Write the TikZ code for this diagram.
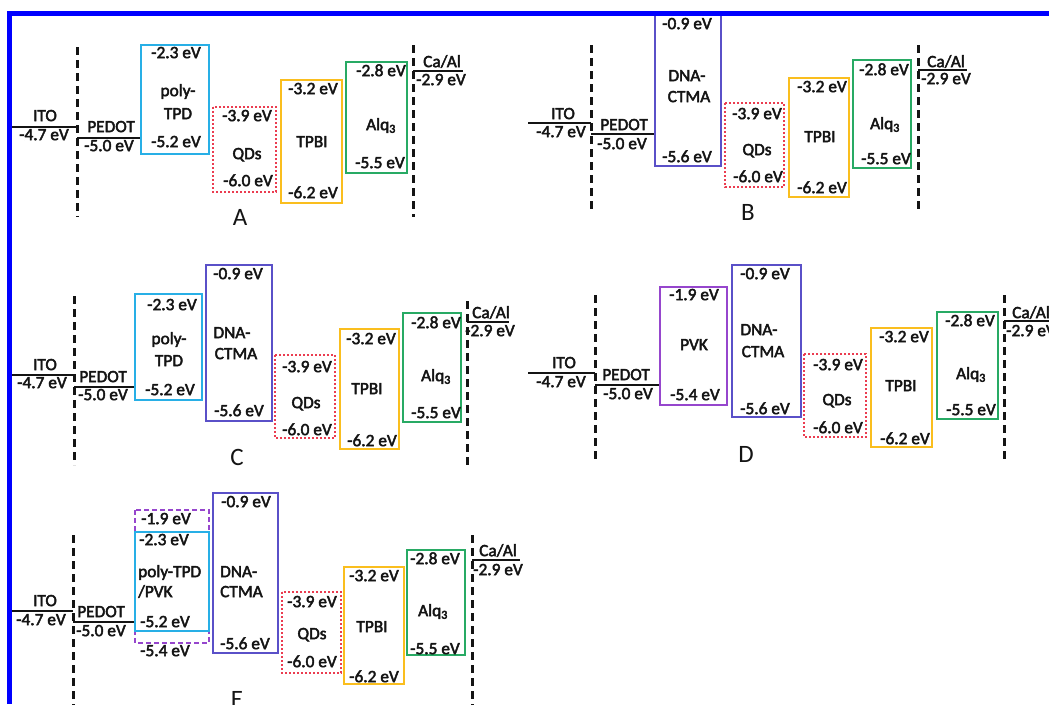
\documentclass[tikz,border=0pt]{standalone}
\usepackage{fontspec}
\setmainfont{Carlito}
\definecolor{ink}{RGB}{20,20,20}
\definecolor{cTPD}{RGB}{40,175,230}
\definecolor{cDNA}{RGB}{90,80,200}
\definecolor{cPVK}{RGB}{150,70,205}
\definecolor{cQD}{RGB}{235,60,80}
\definecolor{cTPBI}{RGB}{250,190,30}
\definecolor{cALQ}{RGB}{40,170,100}
\definecolor{frameblue}{RGB}{0,0,255}
\newcommand\heavytext{\special{pdf:literal direct 2 Tr 0.45 w}}
\newcommand\lblfont{\fontsize{17.3}{18}\selectfont\heavytext}
\newcommand\panelfont{\fontsize{25}{26}\selectfont}
\newcommand\T[4]{\node[lbl] (#1) at (#2,#3) {#4};}
\begin{document}
\begin{tikzpicture}[x=1pt,y=-1pt,
  lbl/.style={font=\lblfont,inner sep=0pt,text=ink,text height=0.63em,text depth=0pt},
  plab/.style={font=\panelfont,inner sep=0pt,text=ink,text height=0.66em,text depth=0pt},
  level/.style={draw=ink,line width=1.9pt},
  vac/.style={draw=ink,line width=3pt,dash pattern=on 8pt off 5pt},
  tpdbox/.style={draw=cTPD,line width=2pt},
  dnabox/.style={draw=cDNA,line width=2pt},
  pvkbox/.style={draw=cPVK,line width=2pt},
  pvkdash/.style={draw=cPVK,line width=1.6pt,dash pattern=on 5pt off 3pt},
  qdbox/.style={draw=cQD,line width=2.4pt,dash pattern=on 2pt off 2pt},
  tpbibox/.style={draw=cTPBI,line width=2.2pt},
  alqbox/.style={draw=cALQ,line width=2.2pt}]
\useasboundingbox (0,0) rectangle (1049,704);
\clip (0,0) rectangle (1049,704);

% ================= Panel A =================
\coordinate (aI1) at (12,127); \coordinate (aI2) at (77,127);
\coordinate (aP1) at (77,138); \coordinate (aP2) at (141,138);
\draw[level] (aI1) -- (aI2);
\draw[level] (aP1) -- (aP2);
\coordinate (aV1) at (77,47); \coordinate (aV2) at (77,217);
\draw[vac] (aV1) -- (aV2);
\coordinate (aW1) at (413,45); \coordinate (aW2) at (413,217);
\draw[vac] (aW1) -- (aW2);
\coordinate (aC1) at (413,71); \coordinate (aC2) at (463,71);
\draw[level] (aC1) -- (aC2);
\draw[tpdbox] (141,45) rectangle (209,154);
\draw[qdbox] (213,107) rectangle (276,192);
\draw[tpbibox] (281,80) rectangle (342,203);
\draw[alqbox] (346,62) rectangle (407,173);
\T{aito}{45}{118}{ITO}
\T{aitoe}{44}{137}{-4.7 eV}
\T{aped}{111}{129}{PEDOT}
\T{apede}{109}{148}{-5.0 eV}
\T{atpdt}{176}{55}{-2.3 eV}
\T{atpd1}{178}{93}{poly-}
\T{atpd2}{178}{116}{TPD}
\T{atpdb}{176}{144}{-5.2 eV}
\T{aqdt}{247}{118}{-3.9 eV}
\T{aqd}{247}{156}{QDs}
\T{aqdb}{248}{183}{-6.0 eV}
\T{atpbit}{313}{91}{-3.2 eV}
\T{atpbi}{312}{144}{TPBI}
\T{atpbib}{313}{195}{-6.2 eV}
\T{aalqt}{381}{73}{-2.8 eV}
\T{aalq}{381}{127}{Alq\textsubscript{3}}
\T{aalqb}{380}{165}{-5.5 eV}
\T{acaal}{442}{64}{Ca/Al}
\T{acaale}{441}{82}{-2.9 eV}
\node[plab] (alab) at (240,222) {A};

% ================= Panel B =================
\coordinate (bI1) at (528,123); \coordinate (bI2) at (591,123);
\coordinate (bP1) at (591,134); \coordinate (bP2) at (655,134);
\draw[level] (bI1) -- (bI2);
\draw[level] (bP1) -- (bP2);
\coordinate (bV1) at (591,45); \coordinate (bV2) at (591,212);
\draw[vac] (bV1) -- (bV2);
\coordinate (bW1) at (918,45); \coordinate (bW2) at (918,212);
\draw[vac] (bW1) -- (bW2);
\coordinate (bC1) at (918,70); \coordinate (bC2) at (967,70);
\draw[level] (bC1) -- (bC2);
\draw[dnabox] (655,13) rectangle (721,166);
\draw[qdbox] (725,103) rectangle (784,187);
\draw[tpbibox] (789,78) rectangle (849,197);
\draw[alqbox] (853,60) rectangle (911,168);
\T{bito}{563}{116}{ITO}
\T{bitoe}{561}{134}{-4.7 eV}
\T{bped}{624}{127}{PEDOT}
\T{bpede}{622}{146}{-5.0 eV}
\T{bdnat}{687}{26}{-0.9 eV}
\T{bdna1}{687}{78}{DNA-}
\T{bdna2}{689}{99}{CTMA}
\T{bdnab}{687}{159}{-5.6 eV}
\T{bqdt}{757}{116}{-3.9 eV}
\T{bqd}{757}{152}{QDs}
\T{bqdb}{758}{179}{-6.0 eV}
\T{btpbit}{822}{89}{-3.2 eV}
\T{btpbi}{820}{139}{TPBI}
\T{btpbib}{822}{190}{-6.2 eV}
\T{balqt}{884}{72}{-2.8 eV}
\T{balq}{885}{126}{Alq\textsubscript{3}}
\T{balqb}{886}{161}{-5.5 eV}
\T{bcaal}{946}{64}{Ca/Al}
\T{bcaale}{946}{81}{-2.9 eV}
\node[plab] (blab) at (748,217) {B};

% ================= Panel C =================
\coordinate (cI1) at (12,375); \coordinate (cI2) at (74,375);
\coordinate (cP1) at (74,387); \coordinate (cP2) at (135,387);
\draw[level] (cI1) -- (cI2);
\draw[level] (cP1) -- (cP2);
\coordinate (cV1) at (74,296); \coordinate (cV2) at (74,465);
\draw[vac] (cV1) -- (cV2);
\coordinate (cW1) at (467,301); \coordinate (cW2) at (467,465);
\draw[vac] (cW1) -- (cW2);
\coordinate (cC1) at (467,322); \coordinate (cC2) at (509,322);
\draw[level] (cC1) -- (cC2);
\draw[tpdbox] (135,294) rectangle (202,400);
\draw[dnabox] (206,265) rectangle (272,421);
\draw[qdbox] (275,355) rectangle (335,438);
\draw[tpbibox] (340,329) rectangle (399,449);
\draw[alqbox] (403,313) rectangle (461,422);
\T{cito}{45}{367}{ITO}
\T{citoe}{42}{385}{-4.7 eV}
\T{cped}{103}{379}{PEDOT}
\T{cpede}{103}{397}{-5.0 eV}
\T{ctpdt}{172}{307}{-2.3 eV}
\T{ctpd1}{169}{341}{poly-}
\T{ctpd2}{169}{363}{TPD}
\T{ctpdb}{170}{392}{-5.2 eV}
\T{cdnat}{238}{276}{-0.9 eV}
\T{cdna1}{232}{335}{DNA-}
\T{cdna2}{236}{356}{CTMA}
\T{cdnab}{239}{413}{-5.6 eV}
\T{cqdt}{307}{369}{-3.9 eV}
\T{cqd}{306}{405}{QDs}
\T{cqdb}{307}{432}{-6.0 eV}
\T{ctpbit}{371}{341}{-3.2 eV}
\T{ctpbi}{367}{391}{TPBI}
\T{ctpbib}{372}{443}{-6.2 eV}
\T{calqt}{436}{325}{-2.8 eV}
\T{calq}{436}{378}{Alq\textsubscript{3}}
\T{calqb}{436}{415}{-5.5 eV}
\T{ccaal}{491}{315}{Ca/Al}
\T{ccaale}{490}{333}{-2.9 eV}
\node[plab] (clab) at (237,462) {C};

% ================= Panel D =================
\coordinate (dI1) at (528,373); \coordinate (dI2) at (595,373);
\coordinate (dP1) at (595,385); \coordinate (dP2) at (659,385);
\draw[level] (dI1) -- (dI2);
\draw[level] (dP1) -- (dP2);
\coordinate (dV1) at (595,295); \coordinate (dV2) at (595,462);
\draw[vac] (dV1) -- (dV2);
\coordinate (dW1) at (1004,295); \coordinate (dW2) at (1004,462);
\draw[vac] (dW1) -- (dW2);
\coordinate (dC1) at (1004,321); \coordinate (dC2) at (1060,321);
\draw[level] (dC1) -- (dC2);
\draw[pvkbox] (660,287) rectangle (727,405);
\draw[dnabox] (732,265) rectangle (801,417);
\draw[qdbox] (804,354) rectangle (866,437);
\draw[tpbibox] (871,328) rectangle (932,447);
\draw[alqbox] (937,312) rectangle (998,419);
\T{dito}{564}{365}{ITO}
\T{ditoe}{561}{384}{-4.7 eV}
\T{dped}{626}{377}{PEDOT}
\T{dpede}{628}{396}{-5.0 eV}
\T{dpvkt}{694}{297}{-1.9 eV}
\T{dpvk}{694}{347}{PVK}
\T{dpvkb}{695}{397}{-5.4 eV}
\T{ddnat}{765}{276}{-0.9 eV}
\T{ddna1}{759}{332}{DNA-}
\T{ddna2}{763}{354}{CTMA}
\T{ddnab}{765}{411}{-5.6 eV}
\T{dqdt}{838}{367}{-3.9 eV}
\T{dqd}{837}{402}{QDs}
\T{dqdb}{838}{430}{-6.0 eV}
\T{dtpbit}{904}{339}{-3.2 eV}
\T{dtpbi}{901}{388}{TPBI}
\T{dtpbib}{905}{441}{-6.2 eV}
\T{dalqt}{970}{323}{-2.8 eV}
\T{dalq}{971}{376}{Alq\textsubscript{3}}
\T{dalqb}{971}{412}{-5.5 eV}
\T{dcaal}{1031}{315}{Ca/Al}
\T{dcaale}{1031}{333}{-2.9 eV}
\node[plab] (dlab) at (746,459) {D};

% ================= Panel E =================
\coordinate (eI1) at (12,611); \coordinate (eI2) at (73,611);
\coordinate (eP1) at (73,622); \coordinate (eP2) at (135,622);
\draw[level] (eI1) -- (eI2);
\draw[level] (eP1) -- (eP2);
\coordinate (eV1) at (73,535); \coordinate (eV2) at (73,712);
\draw[vac] (eV1) -- (eV2);
\coordinate (eW1) at (472,535); \coordinate (eW2) at (472,712);
\draw[vac] (eW1) -- (eW2);
\coordinate (eC1) at (472,560); \coordinate (eC2) at (520,560);
\draw[level] (eC1) -- (eC2);
\draw[pvkdash] (135,510) rectangle (209,643);
\draw[tpdbox] (135,532) rectangle (209,631);
\draw[dnabox] (213,493) rectangle (278,653);
\draw[qdbox] (282,592) rectangle (341,673);
\draw[tpbibox] (344,567) rectangle (404,684);
\draw[alqbox] (407,550) rectangle (465,655);
\T{eito}{45}{603}{ITO}
\T{eitoe}{41}{622}{-4.7 eV}
\T{eped}{101}{614}{PEDOT}
\T{epede}{101}{633}{-5.0 eV}
\T{epvkt}{166}{521}{-1.9 eV}
\T{etpdt}{164}{542}{-2.3 eV}
\node[lbl,anchor=west] (etpd1) at (138,574) {poly-TPD};
\node[lbl,anchor=west] (etpd2) at (138,594) {/PVK};
\T{etpdb}{165}{624}{-5.2 eV}
\T{epvkb}{165}{653}{-5.4 eV}
\T{ednat}{246}{504}{-0.9 eV}
\node[lbl,anchor=west] (edna1) at (220,574) {DNA-};
\node[lbl,anchor=west] (edna2) at (220,594) {CTMA};
\T{ednab}{245}{646}{-5.6 eV}
\T{eqdt}{312}{604}{-3.9 eV}
\T{eqd}{312}{636}{QDs}
\T{eqdb}{312}{664}{-6.0 eV}
\T{etpbit}{374}{578}{-3.2 eV}
\T{etpbi}{372}{629}{TPBI}
\T{etpbib}{374}{679}{-6.2 eV}
\T{ealqt}{435}{561}{-2.8 eV}
\T{ealq}{433}{613}{Alq\textsubscript{3}}
\T{ealqb}{435}{651}{-5.5 eV}
\T{ecaal}{498}{553}{Ca/Al}
\T{ecaale}{498}{572}{-2.9 eV}
\node[plab] (elab) at (237,704) {E};

% ================= frame =================
\fill[frameblue] (7,11) rectangle (1049,16);
\fill[frameblue] (7,11) rectangle (12,704);
\end{tikzpicture}
\end{document}
